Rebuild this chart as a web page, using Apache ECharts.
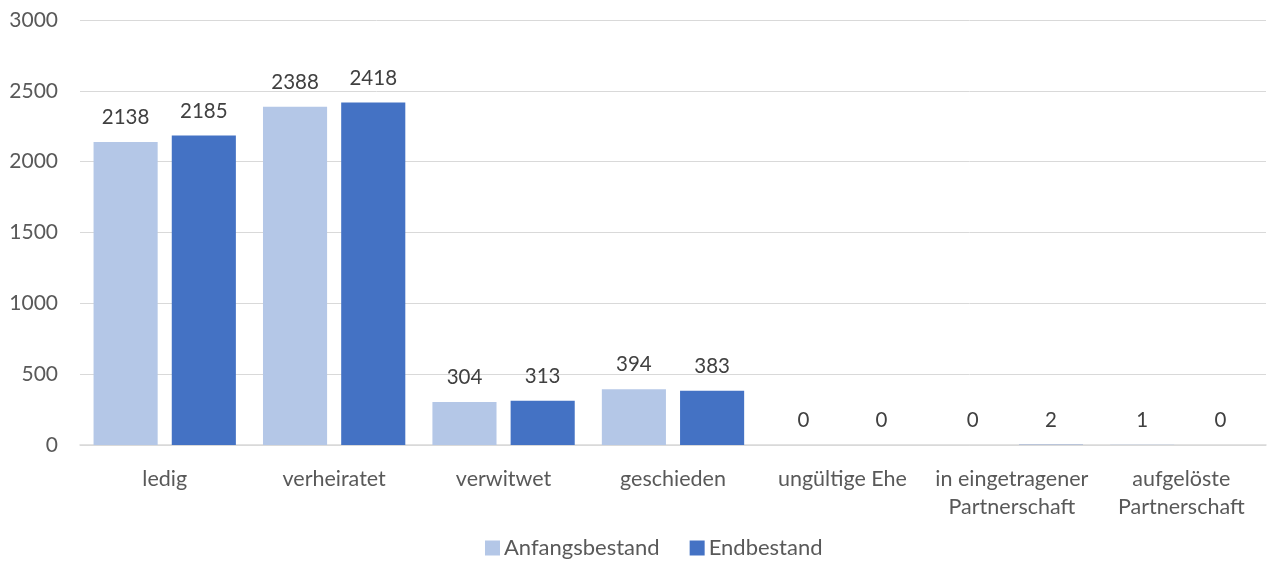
<!DOCTYPE html>
<html><head><meta charset="utf-8">
<script src="https://cdn.jsdelivr.net/npm/echarts@6/dist/echarts.min.js"></script>
<style>html,body{margin:0;padding:0;background:#fff}#c{width:1267px;height:562px}</style>
</head><body><div id="c"></div>
<script>
const categories = ['ledig','verheiratet','verwitwet','geschieden','ungültige Ehe','in eingetragener\nPartnerschaft','aufgelöste\nPartnerschaft'];
const anfangsbestand = [2138, 2388, 304, 394, 0, 0, 1];
const endbestand = [2185, 2418, 313, 383, 0, 2, 0];
const yTicks = {min: 0, max: 3000, interval: 500};
const FONT = 'Lato';
const chart = echarts.init(document.getElementById('c'));
const label = {show: true, position: 'top', distance: 14, color: '#404040', fontSize: 20.5, fontFamily: FONT};
chart.setOption({
  animation: false,
  textStyle: {fontFamily: FONT},
  grid: {left: 80, right: 1, top: 20, bottom: 117, containLabel: false},
  legend: {top: 532, left: 480, itemWidth: 15, itemHeight: 15, itemGap: 30, icon: 'rect',
    textStyle: {color: '#595959', fontSize: 22, fontFamily: FONT, padding: [0, 0, 0, -1]}},
  xAxis: {type: 'category', data: categories,
    axisLine: {lineStyle: {color: '#d9d9d9', width: 1.5}}, axisTick: {show: false},
    axisLabel: {color: '#595959', fontSize: 21.5, fontFamily: FONT, margin: 20, lineHeight: 28, interval: 0}},
  yAxis: {type: 'value', min: yTicks.min, max: yTicks.max, interval: yTicks.interval,
    axisLine: {show: false}, axisTick: {show: false},
    splitLine: {lineStyle: {color: '#d9d9d9', width: 1}},
    axisLabel: {color: '#595959', fontSize: 21, fontFamily: FONT, margin: 22, align: 'right',
      formatter: v => String(v)}},
  series: [
    {name: 'Anfangsbestand', type: 'bar', data: anfangsbestand, barGap: '22%', barCategoryGap: '16%',
     itemStyle: {color: '#b4c7e7'}, label},
    {name: 'Endbestand', type: 'bar', data: endbestand,
     itemStyle: {color: '#4472c4'}, label}
  ]
});
</script></body></html>
